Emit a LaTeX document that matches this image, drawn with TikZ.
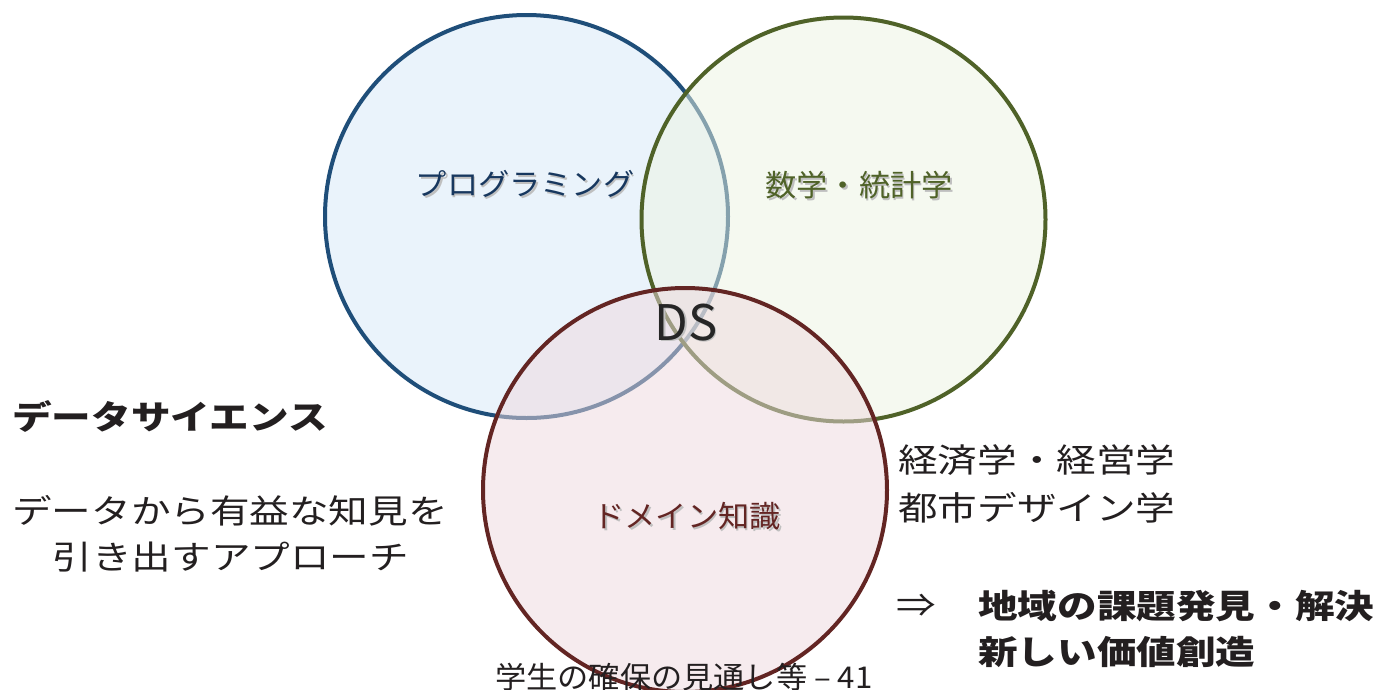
\documentclass[tikz,border=0pt]{standalone}
\usepackage{fontspec}
\setmainfont{Noto Sans CJK JP}
\newfontfamily\bigjp{Noto Sans CJK JP}[FakeStretch=1.2]
\newfontfamily\lbljp{Noto Sans CJK JP}[FakeStretch=1.04]
\definecolor{blueline}{HTML}{1F4E79}
\definecolor{greenline}{HTML}{4F6228}
\definecolor{redline}{HTML}{632523}
\definecolor{bluefill}{RGB}{215,232,248}
\definecolor{greenfill}{RGB}{236,244,226}
\definecolor{redfill}{RGB}{238,217,222}
\definecolor{bluetext}{HTML}{17375E}
\definecolor{maintext}{HTML}{231F20}
\definecolor{dstext}{HTML}{262626}
\newcommand\shadowed[2]{\makebox[0pt][l]{\hspace*{1.6pt}\raisebox{-1.6pt}{\textcolor{black!25}{#2}}}\textcolor{#1}{#2}}
\begin{document}
\begin{tikzpicture}[x=1pt,y=-1pt,
  venn/.style={circle, inner sep=0pt, outer sep=0pt, line width=4pt, fill opacity=0.5, draw opacity=1},
  circlabel/.style={inner sep=0pt, font=\lbljp\fontsize{30}{34}\selectfont},
  bigtext/.style={inner sep=0pt, text=maintext, font=\bigjp\fontsize{33}{38}\selectfont},
  boldtext/.style={bigtext, font=\bigjp\bfseries\fontsize{33}{38}\selectfont}]
\useasboundingbox (0,0) rectangle (1377,689);
\fill[white] (0,0) rectangle (1377,689);
% circles
\node[venn, draw=blueline, fill=bluefill, minimum size=403pt] (prog) at (526.5,216.5) {};
\node[venn, draw=greenline, fill=greenfill, minimum size=404pt] (math) at (843.5,219.5) {};
\node[venn, draw=redline, fill=redfill, minimum size=404pt] (domain) at (685,490) {};
% circle labels
\node[circlabel] (progl) at (525,185) {\shadowed{bluetext}{プログラミング}};
\node[circlabel] (mathl) at (859,186) {\shadowed{greenline}{数学・統計学}};
\node[circlabel] (domainl) at (687,517) {\shadowed{redline}{ドメイン知識}};
\node[inner sep=0pt, font=\fontsize{49}{53}\selectfont] (ds) at (686,323) {\shadowed{dstext}{DS}};
% left texts
\node[boldtext, anchor=west] (title) at (12,416) {データサイエンス};
\node[bigtext] (desc1) at (230,511) {データから有益な知見を};
\node[bigtext] (desc2) at (231,557) {引き出すアプローチ};
% right texts
\node[bigtext, anchor=west] (fields1) at (898,460) {経済学・経営学};
\node[bigtext, anchor=west] (fields2) at (898,508) {都市デザイン学};
\node[bigtext, anchor=west] (arrow) at (896,606) {⇒};
\node[boldtext, anchor=west] (goal1) at (978,606) {地域の課題発見・解決};
\node[boldtext, anchor=west] (goal2) at (978,652) {新しい価値創造};
% footer
\node[inner sep=0pt, anchor=west, text=maintext, font=\lbljp\fontsize{30}{34}\selectfont] (footer) at (495,677) {学生の確保の見通し等 – 41};
\end{tikzpicture}
\end{document}
